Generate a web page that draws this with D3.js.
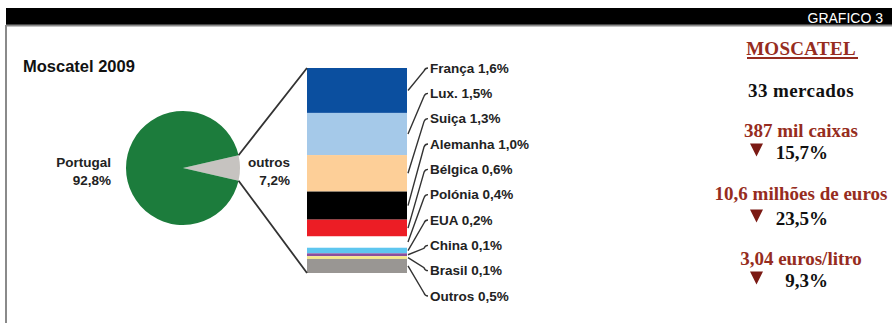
<!DOCTYPE html>
<html>
<head>
<meta charset="utf-8">
<script src="https://cdn.jsdelivr.net/npm/d3@7"></script>
<style>
  html, body { margin: 0; padding: 0; background: #fff; }
  svg { display: block; }
</style>
</head>
<body>
<svg id="chart" width="892" height="323"></svg>
<script>
// ---- data ----
const chartTitle = "Moscatel 2009";
const badge = "GRAFICO 3";
const shareLabels = ["outros", "Portugal"];
const shareValues = [7.2, 92.8];
const markets = ["França", "Lux.", "Suiça", "Alemanha", "Bélgica", "Polónia", "EUA", "China", "Brasil", "Outros"];
const marketShares = [1.6, 1.5, 1.3, 1.0, 0.6, 0.4, 0.2, 0.1, 0.1, 0.5];
const marketColors = ["#0b4f9f", "#a5c9e9", "#fdcf98", "#000000", "#ec1d25", "#ffffff", "#5ec6ef", "#8b4e9c", "#f4e88c", "#999693"];
const panelTitle = "MOSCATEL";
const marketCount = "33 mercados";
const statValues = ["387 mil caixas", "10,6 milhões de euros", "3,04 euros/litro"];
const statChanges = ["15,7%", "23,5%", "9,3%"];

// ---- helpers ----
const pct = v => v.toFixed(1).replace(".", ",") + "%";
const sans = "'Liberation Sans', Arial, sans-serif";
const serif = "'Liberation Serif', 'Times New Roman', serif";
const svg = d3.select("#chart");

// ---- frame ----
svg.append("rect").attr("x", 6).attr("y", 8).attr("width", 886).attr("height", 17).attr("fill", "#000");
svg.append("path").attr("d", "M6,25.5 H892 M6,25 V323")
  .attr("stroke", "#8a8a8a").attr("stroke-width", 2).attr("fill", "none");
svg.append("text").attr("x", 883).attr("y", 18).attr("dy", "0.35em")
  .attr("text-anchor", "end").attr("fill", "#fff")
  .style("font-family", sans).style("font-size", "14px").text(badge);

svg.append("text").attr("x", 23).attr("y", 66).attr("dy", "0.35em")
  .style("font-family", sans).style("font-weight", "bold").style("font-size", "16.5px")
  .attr("fill", "#111").text(chartTitle);

// ---- pie ----
const cx = 183, cy = 168, r = 57;
const outrosSpan = 2 * Math.PI * shareValues[0] / d3.sum(shareValues);
const pie = d3.pie().sort(null)
  .startAngle(Math.PI / 2 - outrosSpan / 2)
  .endAngle(Math.PI / 2 - outrosSpan / 2 + 2 * Math.PI);
const slices = pie(shareValues);
const arc = d3.arc().innerRadius(0).outerRadius(r);
const pieColors = ["#c6c3c0", "#1c7c3c"];

const pieG = svg.append("g").attr("transform", `translate(${cx},${cy})`);
pieG.selectAll("path").data(slices).join("path")
  .attr("d", arc).attr("fill", (d, i) => pieColors[i]);

const rim = a => [cx + r * Math.sin(a), cy - r * Math.cos(a)];

// pie labels
const pieLabel = (x, lines) => {
  const t = svg.append("text").attr("text-anchor", "end")
    .style("font-family", sans).style("font-weight", "bold").style("font-size", "13.5px")
    .attr("fill", "#222");
  lines.forEach((s, i) => t.append("tspan").attr("x", x).attr("y", 162 + i * 18).attr("dy", "0.35em").text(s));
};
pieLabel(111, [shareLabels[1], pct(shareValues[1])]);
pieLabel(290, [shareLabels[0], pct(shareValues[0])]);

// ---- stacked bar ----
const barX = 307, barW = 100;
const y = d3.scaleLinear().domain([0, d3.sum(marketShares)]).range([68, 273]);
const cum = d3.cumsum(marketShares);
const segs = markets.map((m, i) => ({
  name: m, value: marketShares[i], color: marketColors[i],
  y0: y(cum[i] - marketShares[i]), y1: y(cum[i])
}));

svg.append("g").selectAll("rect").data(segs).join("rect")
  .attr("x", barX).attr("width", barW)
  .attr("y", d => d.y0).attr("height", d => d.y1 - d.y0)
  .attr("fill", d => d.color);

// zoom lines from the "outros" wedge to the bar
const p0 = rim(slices[0].startAngle), p1 = rim(slices[0].endAngle);
svg.append("path")
  .attr("d", `M${p0[0]},${p0[1]} L${barX},${y.range()[0]} M${p1[0]},${p1[1]} L${barX},${y.range()[1]}`)
  .attr("stroke", "#333").attr("stroke-width", 1.8).attr("fill", "none");

// market labels with leader lines
const rows = d3.scalePoint().domain(markets).range([68, 296]);
const bendX = 424, textX = 430;
svg.append("g").selectAll("path").data(segs).join("path")
  .attr("d", d => {
    const ys = (d.y0 + d.y1) / 2, ly = rows(d.name);
    const s = Math.sign(ys - ly) || 1;
    return `M${barX + barW + 1},${ys} L${bendX},${ly + s * 3} Q${bendX + 1},${ly} ${bendX + 4},${ly}`;
  })
  .attr("stroke", "#333").attr("stroke-width", 1.4).attr("fill", "none");

svg.append("g").selectAll("text").data(segs).join("text")
  .attr("x", textX).attr("y", d => rows(d.name)).attr("dy", "0.35em")
  .style("font-family", sans).style("font-weight", "bold").style("font-size", "13.5px")
  .attr("fill", "#222")
  .text(d => `${d.name} ${pct(d.value)}`);

// ---- summary panel ----
const red = "#962c20", dark = "#7b1a14", px = 801;
const panel = svg.append("g").style("font-family", serif).style("font-weight", "bold").style("font-size", "19px");
panel.append("text").attr("x", px).attr("y", 48).attr("dy", "0.35em").attr("text-anchor", "middle")
  .attr("fill", red).style("letter-spacing", "0.3px").text(panelTitle);
panel.append("line").attr("x1", 747).attr("x2", 858).attr("y1", 58).attr("y2", 58)
  .attr("stroke", red).attr("stroke-width", 2);
panel.append("text").attr("x", px).attr("y", 90).attr("dy", "0.35em").attr("text-anchor", "middle")
  .attr("fill", "#111").style("letter-spacing", "0.4px").text(marketCount);

const statY = [130, 193, 258], changeY = [152, 218, 280];
statValues.forEach((s, i) => {
  panel.append("text").attr("x", px).attr("y", statY[i]).attr("dy", "0.35em").attr("text-anchor", "middle")
    .attr("fill", red).text(s);
  const ty = changeY[i] - 2;
  panel.append("path").attr("d", `M750,${ty - 6.5} L763,${ty - 6.5} L756.5,${ty + 6.5} Z`).attr("fill", dark);
  panel.append("text").attr("x", 828).attr("y", changeY[i]).attr("dy", "0.35em").attr("text-anchor", "end")
    .attr("fill", "#111").text(statChanges[i]);
});
</script>
</body>
</html>
